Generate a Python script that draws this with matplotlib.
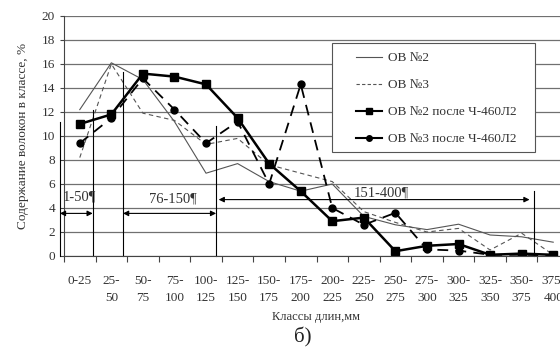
import matplotlib
matplotlib.use("Agg")
import matplotlib.pyplot as plt
from matplotlib.lines import Line2D
from matplotlib.patches import Rectangle
import numpy as np

plt.rcParams['font.family'] = ['Liberation Serif', 'DejaVu Serif']

categories = ["0-25", "25-\n50", "50-\n75", "75-\n100", "100-\n125", "125-\n150", "150-\n175",
              "175-\n200", "200-\n225", "225-\n250", "250-\n275", "275-\n300", "300-\n325",
              "325-\n350", "350-\n375", "375-\n400"]
ov2 = [12.2, 16.1, 14.7, 11.2, 6.9, 7.7, 6.2, 5.4, 6.0, 3.3, 2.6, 2.2, 2.65, 1.75, 1.6, 1.15]
ov3 = [8.2, 16.0, 11.9, 11.3, 9.3, 9.8, 7.6, 6.9, 6.2, 3.7, 2.8, 2.0, 2.3, 0.5, 1.9, 0.1]
ov2_after = [11.0, 11.8, 15.2, 14.95, 14.3, 11.5, 7.7, 5.4, 2.9, 3.2, 0.4, 0.85, 1.0, 0.1, 0.2, 0.1]
ov3_after = [9.4, 11.5, 14.8, 12.2, 9.4, 11.2, 6.0, 14.3, 4.0, 2.6, 3.6, 0.55, 0.45, 0.1, 0.1, 0.05]
series_names = ["ОВ №2", "ОВ №3", "ОВ №2 после Ч-460Л2", "ОВ №3 после Ч-460Л2"]
range_labels = ["1-50¶", "76-150¶", "151-400¶"]

tc = '#333333'
fig = plt.figure(figsize=(5.6, 3.56), dpi=100)
ax = fig.add_axes([64/560, 1-256/356, (569-64)/560, 240/356])
x = np.arange(len(categories))

ax.plot(x, ov2, color='#555555', lw=0.8)
ax.plot(x, ov3, color='#555555', lw=0.8, dashes=(4, 3))
ax.plot(x, ov2_after, color='black', lw=1.8, marker='s', ms=6)
ax.plot(x, ov3_after, color='black', lw=1.3, dashes=(6, 4), marker='o', ms=5)

ax.set_xlim(-0.5, len(categories) - 0.5)
ax.set_ylim(0, 20)
ax.set_yticks(np.arange(0, 21, 2))
ax.yaxis.grid(True, color='#707070', lw=0.9)
ax.set_axisbelow(True)
ax.set_xticks(np.arange(-0.5, len(categories), 1))
ax.set_xticklabels([])
ax.set_xticks(x, minor=True)
ax.set_xticklabels(categories, minor=True, fontsize=9.5, color=tc, linespacing=1.5)
ax.tick_params(axis='x', which='minor', length=0, pad=14)
ax.tick_params(axis='x', which='major', length=4, direction='out', color='#444444')
ax.tick_params(axis='y', labelsize=9.5, labelcolor=tc, length=3, color='#444444')
for s in ['top', 'right']:
    ax.spines[s].set_visible(False)
ax.spines['left'].set_color('#444444')
ax.spines['bottom'].set_color('#444444')

ax.set_ylabel("Содержание волокон в классе, %", fontsize=9.5, color=tc, labelpad=9)
ax.set_xlabel("Классы длин,мм", fontsize=9, color=tc, labelpad=5)

# vertical annotation lines
for xv, ytop in [(-0.63, 11.2), (0.41, 12.2), (1.37, 15.3), (4.32, 10.8), (14.38, 5.4)]:
    ax.plot([xv, xv], [0, ytop], color='black', lw=0.8, clip_on=False)

arrow = dict(arrowstyle='<|-|>', color='black', lw=0.8, mutation_scale=8, shrinkA=0, shrinkB=0)
ax.annotate('', xy=(-0.63, 3.55), xytext=(0.41, 3.55), arrowprops=arrow, annotation_clip=False)
ax.annotate('', xy=(1.37, 3.55), xytext=(4.32, 3.55), arrowprops=arrow)
ax.annotate('', xy=(4.4, 4.7), xytext=(14.25, 4.7), arrowprops=arrow)
ax.text(0.0, 4.95, range_labels[0], ha='center', va='center', fontsize=10.5, color=tc)
ax.text(2.95, 4.75, range_labels[1], ha='center', va='center', fontsize=10.5, color=tc)
ax.text(9.55, 5.25, range_labels[2], ha='center', va='center', fontsize=10.5, color=tc)

# legend box
ax.add_patch(Rectangle(((332-64)/505, (256-152)/240), (535-332)/505, (152-43)/240,
                       transform=ax.transAxes, facecolor='white', edgecolor='#555555',
                       lw=0.8, zorder=5))
handles = [Line2D([], [], color='#555555', lw=0.8),
           Line2D([], [], color='#555555', lw=0.8, dashes=(3, 2)),
           Line2D([], [], color='black', lw=1.5, marker='s', ms=5),
           Line2D([], [], color='black', lw=1.5, marker='o', ms=4)]
leg = ax.legend(handles, series_names, loc='upper left',
                bbox_to_anchor=((356-64)/505, (256-52)/240),
                frameon=False, fontsize=9.5, handlelength=2.0, labelspacing=1.12,
                borderpad=0, handletextpad=0.4, borderaxespad=0)
leg.set_zorder(6)
for t in leg.get_texts():
    t.set_color(tc)

fig.text(303/560, 1-337/356, "б)", ha='center', va='center', fontsize=15, color='#222222')

fig.savefig("out.png", dpi=100)
